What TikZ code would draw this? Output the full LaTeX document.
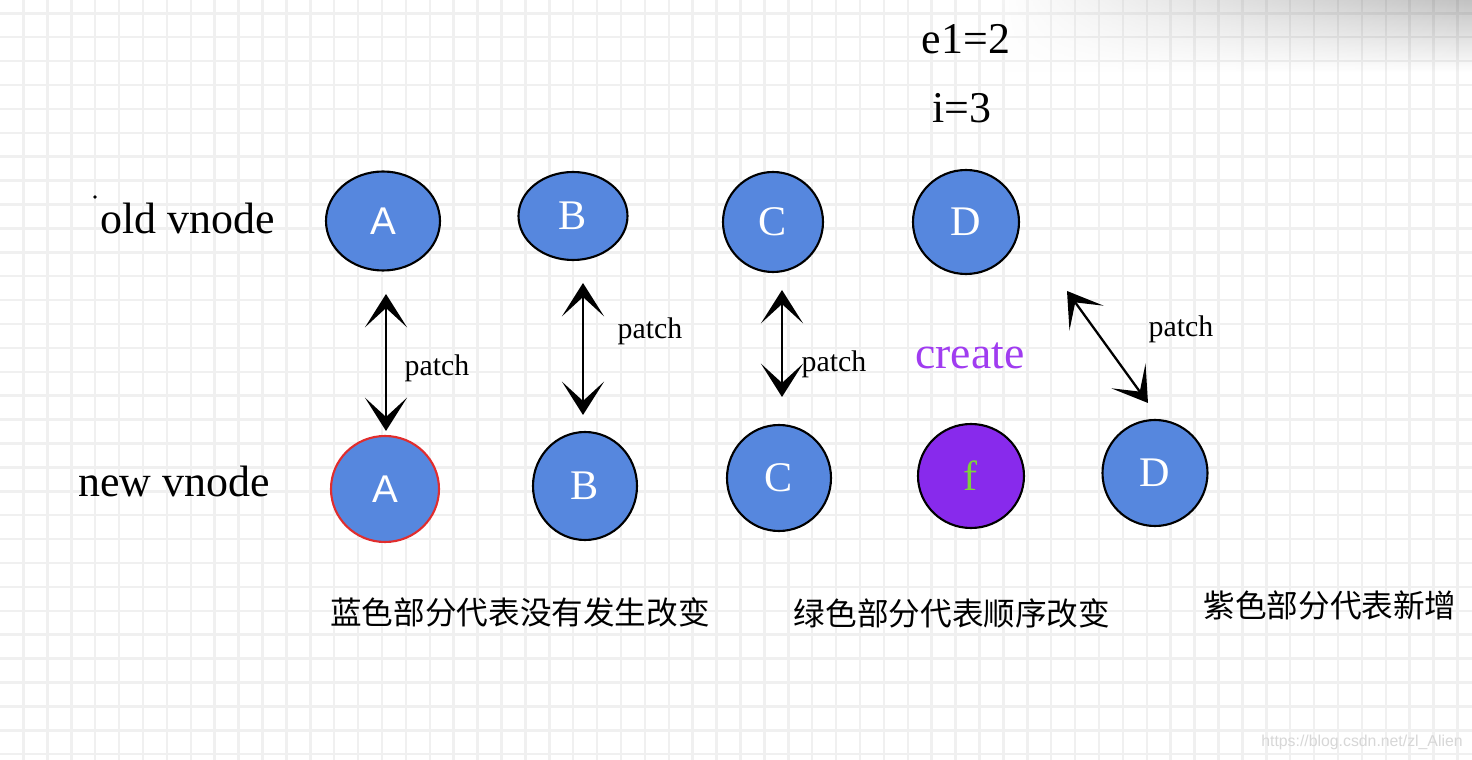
\documentclass[tikz,border=0pt]{standalone}
\usepackage{fontspec}
\setmainfont{Liberation Serif}
\newfontfamily\cjk{Noto Sans CJK SC}
\newfontfamily\sansf{Liberation Sans}
\usetikzlibrary{shapes.geometric,arrows.meta,fadings}
\definecolor{nodeblue}{RGB}{86,135,222}
\definecolor{newpurple}{RGB}{136,42,236}
\definecolor{fgreen}{RGB}{125,210,60}
\definecolor{createpurple}{RGB}{160,60,240}
\definecolor{redborder}{RGB}{225,45,45}
\definecolor{gridc}{RGB}{240,240,240}
\definecolor{wmark}{RGB}{215,215,215}
\tikzfading[name=shadowfade, top color=transparent!76, bottom color=transparent!100]
\begin{document}
\begin{tikzpicture}[x=0.02cm,y=-0.02cm,
  vn/.style={ellipse, draw=black, line width=1.2pt, fill=nodeblue, text=white,
    inner sep=0pt, font=\fontsize{24}{24}\selectfont},
  lbl/.style={inner sep=0pt, font=\fontsize{25}{25}\selectfont},
  patchlbl/.style={inner sep=0pt, font=\fontsize{17}{17}\selectfont},
  cjklbl/.style={inner sep=0pt, font=\cjk\fontsize{18}{18}\selectfont},
  dbl/.style={arrows={Stealth[length=19pt,width=24pt,inset=11pt]-Stealth[length=19pt,width=24pt,inset=11pt]}, line width=1.3pt, black}
]
\useasboundingbox (0,0) rectangle (1472,760);
\fill[white] (0,0) rectangle (1472,760);
% grid
\foreach \k in {0,...,60} \draw[gridc, line width=1.4pt] (23.5+23.9*\k,0) -- (23.5+23.9*\k,760);
\foreach \k in {0,...,31} \draw[gridc, line width=1.4pt] (0,13.3+23.9*\k) -- (1472,13.3+23.9*\k);
% shadow at the top right
\shade[left color=white, middle color=black!85, right color=black, path fading=shadowfade] (1000,0) rectangle (1472,72);
% side labels
\fill[black] (95,197) circle (1.8);
\node[lbl] (oldlbl) at (188,218) {old vnode};
\node[lbl] (newlbl) at (174,481) {new vnode};
\node[lbl] (e1) at (966,39) {e1=2};
\node[lbl] (ii) at (962,108) {i=3};
% old vnodes
\node[vn, minimum width=114*0.02cm, minimum height=99*0.02cm] (oA) at (383,221) {\sansf\fontsize{22}{22}\selectfont A};
\node[vn, minimum width=109*0.02cm, minimum height=88*0.02cm] (oB) at (573,216) {B};
\node[vn, minimum width=100*0.02cm, minimum height=100*0.02cm] (oC) at (773,222) {C};
\node[vn, minimum width=106*0.02cm, minimum height=104*0.02cm] (oD) at (966,222) {D};
% new vnodes
\node[vn, draw=redborder, minimum width=108*0.02cm, minimum height=106*0.02cm] (nA) at (385,489) {\sansf\fontsize{22}{22}\selectfont A};
\node[vn, minimum width=104*0.02cm, minimum height=108*0.02cm] (nB) at (585,486) {B};
\node[vn, minimum width=104*0.02cm, minimum height=106*0.02cm] (nC) at (779,478) {C};
\node[vn, fill=newpurple, text=fgreen, minimum width=106*0.02cm, minimum height=104*0.02cm] (nf) at (971,476) {f};
\node[vn, minimum width=105*0.02cm, minimum height=106*0.02cm] (nD) at (1155,473) {D};
% arrow ends
\coordinate (aA1) at (386,294); \coordinate (aA2) at (386,431);
\coordinate (aB1) at (583,283); \coordinate (aB2) at (583,415);
\coordinate (aC1) at (782,290); \coordinate (aC2) at (782,397);
\coordinate (aD1) at (1067,291); \coordinate (aD2) at (1148,403);
\draw[dbl] (aA1) -- (aA2);
\draw[dbl] (aB1) -- (aB2);
\draw[dbl] (aC1) -- (aC2);
\draw[dbl] (aD1) -- (aD2);
% patch labels
\node[patchlbl] (pA) at (437,368) {patch};
\node[patchlbl] (pB) at (650,331) {patch};
\node[patchlbl] (pC) at (834,364) {patch};
\node[patchlbl] (pD) at (1181,329) {patch};
\node[inner sep=0pt, text=createpurple, font=\fontsize{26}{26}\selectfont] (create) at (970,356) {create};
% captions
\node[cjklbl] (cap1) at (520,612) {蓝色部分代表没有发生改变};
\node[cjklbl] (cap2) at (952,613) {绿色部分代表顺序改变};
\node[cjklbl] (cap3) at (1330,605) {紫色部分代表新增};
% watermark
\node[inner sep=0pt, text=wmark, font=\sansf\fontsize{9}{9}\selectfont] (wm) at (1362,742) {https://blog.csdn.net/zl\_Alien};
\end{tikzpicture}
\end{document}
